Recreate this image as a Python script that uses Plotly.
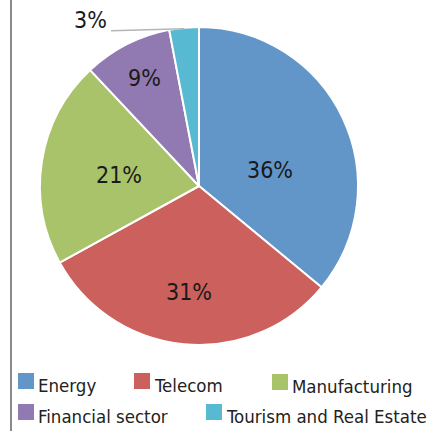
import math
import plotly.graph_objects as go

# Sector shares (percent)
sectors = ["Energy", "Telecom", "Manufacturing", "Financial sector", "Tourism and Real Estate"]
shares = [36, 31, 21, 9, 3]
colors = ["#6296C8", "#CB605D", "#A9C36B", "#9179B1", "#58B9D3"]

W, H = 435, 431
FONT = "DejaVu Sans Condensed, DejaVu Sans, sans-serif"

# pie placement (pixels) -> paper fractions
CX, CY, R = 199, 186, 159
dom_x = [(CX - R) / W, (CX + R) / W]
dom_y = [1 - (CY + R) / H, 1 - (CY - R) / H]

# value-label placement per slice: fraction of radius, angular nudge (deg)
label_radius = [0.46, 0.67, 0.51, 0.76, None]
label_nudge = [12.5, 0.0, -1.2, 0.0, 0.0]

# legend slots (left edge of swatch, row centre), in pixels
legend_slots = [(18, 381), (134, 381), (272, 382), (18, 412), (206, 412)]
SW = 16  # swatch size

fig = go.Figure(
    go.Pie(
        labels=sectors,
        values=shares,
        sort=False,
        direction="clockwise",
        rotation=0,
        marker=dict(colors=colors, line=dict(color="white", width=2)),
        textinfo="none",
        automargin=False,
        domain=dict(x=dom_x, y=dom_y),
        hoverinfo="label+percent",
        showlegend=False,
    )
)

total = sum(shares)


def polar_px(frac_of_turn, radius):
    """Pixel position on the pie, angle measured clockwise from 12 o'clock."""
    t = 2 * math.pi * frac_of_turn
    return CX + radius * math.sin(t), CY - radius * math.cos(t)


annotations = []
shapes = [
    dict(
        type="line",
        xref="paper",
        yref="paper",
        x0=11 / W,
        x1=11 / W,
        y0=0,
        y1=1,
        line=dict(color="#8a8a8a", width=2),
    )
]

cum = 0
for i, v in enumerate(shares):
    mid = (cum + v / 2) / total
    cum += v
    if label_radius[i] is not None:
        px, py = polar_px(mid + label_nudge[i] / 360, R * label_radius[i])
        annotations.append(
            dict(
                x=px / W,
                y=1 - py / H,
                xref="paper",
                yref="paper",
                text=f"{v}%",
                showarrow=False,
                xanchor="center",
                yanchor="middle",
                font=dict(family=FONT, size=23, color="#1a1a1a"),
            )
        )
    else:
        # small slice: label outside with a leader line to the rim
        rx, ry = polar_px(mid, R)
        shapes.append(
            dict(
                type="line",
                xref="paper",
                yref="paper",
                x0=rx / W,
                y0=1 - (ry + 1) / H,
                x1=(rx - 73) / W,
                y1=1 - (ry + 3) / H,
                line=dict(color="#b5b5b5", width=1.5),
            )
        )
        annotations.append(
            dict(
                x=(rx - 75) / W,
                y=1 - (ry - 8) / H,
                xref="paper",
                yref="paper",
                text=f"{v}%",
                showarrow=False,
                xanchor="right",
                yanchor="middle",
                font=dict(family=FONT, size=23, color="#1a1a1a"),
            )
        )

# legend: coloured swatch followed by the sector name
for name, col, (lx, ly) in zip(sectors, colors, legend_slots):
    shapes.append(
        dict(
            type="rect",
            xref="paper",
            yref="paper",
            x0=lx / W,
            x1=(lx + SW) / W,
            y0=1 - (ly + SW / 2) / H,
            y1=1 - (ly - SW / 2) / H,
            fillcolor=col,
            line=dict(width=0),
        )
    )
    annotations.append(
        dict(
            x=(lx + SW + 2) / W,
            y=1 - (ly + 4) / H,
            xref="paper",
            yref="paper",
            xanchor="left",
            yanchor="middle",
            text=name,
            showarrow=False,
            font=dict(family=FONT, size=18.5, color="#222222"),
        )
    )

fig.update_layout(
    width=W,
    height=H,
    margin=dict(l=0, r=0, t=0, b=0),
    paper_bgcolor="white",
    plot_bgcolor="white",
    font=dict(family=FONT, color="#222222"),
    shapes=shapes,
    annotations=annotations,
)

fig.write_html("out.html")
